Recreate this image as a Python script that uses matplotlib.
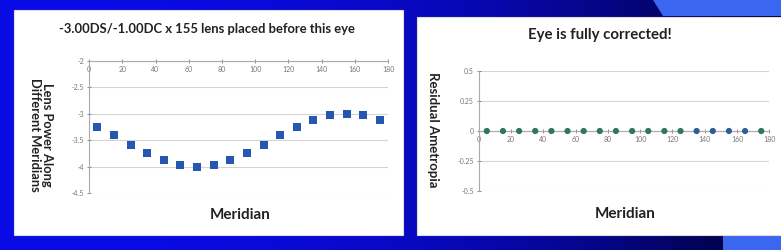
import matplotlib.pyplot as plt
import numpy as np
from matplotlib.patches import Rectangle, Polygon

# data
meridians = [5, 15, 25, 35, 45, 55, 65, 75, 85, 95, 105, 115, 125, 135, 145, 155, 165, 175]
lens_power = [-3.25, -3.41, -3.59, -3.75, -3.88, -3.97, -4.00, -3.97, -3.88,
              -3.75, -3.59, -3.41, -3.25, -3.12, -3.03, -3.00, -3.03, -3.12]
residual = [0, 0, 0, 0, 0, 0, 0, 0, 0, 0, 0, 0, 0, 0, 0, 0, 0, 0]
x_ticks = [0, 20, 40, 60, 80, 100, 120, 140, 160, 180]
left_yticks = [-2, -2.5, -3, -3.5, -4, -4.5]
right_yticks = [0.5, 0.25, 0, -0.25, -0.5]

plt.rcParams['font.family'] = ['Lato', 'DejaVu Sans']

fig = plt.figure(figsize=(7.81, 2.5), dpi=100)

# slide background: bright blue fading to navy on the right
bg = fig.add_axes([0, 0, 1, 1])
bg.set_xlim(0, 781)
bg.set_ylim(250, 0)
bg.axis('off')
t = np.linspace(0, 1, 400)
c0 = np.array([0.04, 0.04, 0.90])
c1 = np.array([0.0, 0.0, 0.18])
w = t[:, None] ** 2.5
grad = c0[None, :] * (1 - w) + c1[None, :] * w
bg.imshow(grad[None, :, :], extent=[0, 781, 250, 0], aspect='auto')
bg.add_patch(Polygon([[653, 0], [781, 0], [781, 16], [663, 16]], color='#3b66f0', lw=0))
bg.add_patch(Rectangle((723, 235), 60, 20, color='#3b66f0', lw=0))
bg.add_patch(Rectangle((14, 10), 389, 225, facecolor='white', edgecolor='#dddddd', lw=0.8))
bg.add_patch(Rectangle((417, 17), 366, 218, facecolor='white', edgecolor='#dddddd', lw=0.8))

grid_c = '#d4d4d4'
tick_c = '#777777'


def style_axes(ax, ylo, yhi, yticks, xcross):
    ax.set_xlim(0, 180)
    ax.set_ylim(ylo, yhi)
    ax.set_xticks(x_ticks)
    ax.set_yticks(yticks)
    ax.set_yticklabels([('%g' % v) for v in yticks])
    ax.spines['bottom'].set_position(('data', xcross))
    ax.spines['bottom'].set_color('#aaaaaa')
    ax.spines['left'].set_color('#aaaaaa')
    ax.spines['top'].set_visible(False)
    ax.spines['right'].set_visible(False)
    ax.yaxis.grid(True, color=grid_c, lw=0.8)
    ax.set_axisbelow(True)
    ax.tick_params(axis='both', labelsize=5, colors=tick_c, length=3, width=0.6,
                   direction='inout', pad=2)
    ax.patch.set_alpha(0)


# left panel
ax1 = fig.add_axes([0.114, 0.228, 0.383, 0.528])
style_axes(ax1, -4.5, -2, left_yticks, -2)
ax1.plot(meridians, lens_power, 's', color='#2357b0', markersize=5.3, markeredgewidth=0)
fig.text(0.265, 0.885, '-3.00DS/-1.00DC x 155 lens placed before this eye',
         ha='center', va='center', fontsize=9.4, fontweight='bold', color='#222222')
fig.text(0.053, 0.46, 'Lens Power Along\nDifferent Meridians', rotation=270,
         ha='center', va='center', fontsize=9.3, fontweight='bold', color='#222222',
         linespacing=1.0)
fig.text(0.308, 0.14, 'Meridian', ha='center', va='center', fontsize=11,
         fontweight='bold', color='#222222')

# right panel
ax2 = fig.add_axes([0.613, 0.236, 0.372, 0.48])
style_axes(ax2, -0.5, 0.5, right_yticks, 0)
pt_colors = ['#2e7565'] * 13 + ['#2c5f9a'] * 4 + ['#2e7565']
ax2.scatter(meridians, residual, s=20, c=pt_colors, linewidths=0, zorder=3)
fig.text(0.768, 0.862, 'Eye is fully corrected!', ha='center', va='center',
         fontsize=10.8, fontweight='bold', color='#222222')
fig.text(0.555, 0.48, 'Residual Ametropia', rotation=270, ha='center', va='center',
         fontsize=9.5, fontweight='bold', color='#222222')
fig.text(0.80, 0.145, 'Meridian', ha='center', va='center', fontsize=11,
         fontweight='bold', color='#222222')

fig.savefig('out.png', dpi=100)
plt.close(fig)
